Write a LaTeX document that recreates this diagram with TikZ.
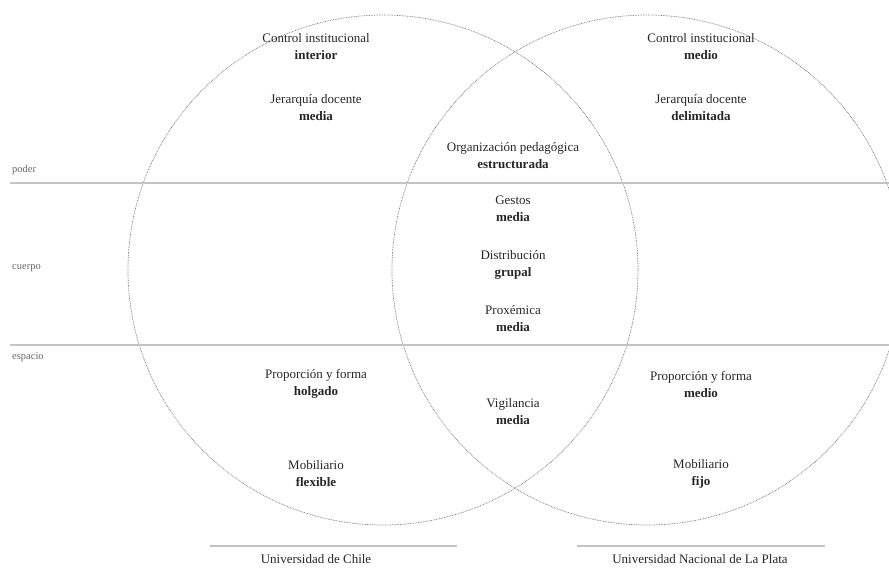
\documentclass[tikz,border=0pt]{standalone}
\usepackage{fontspec}
\setmainfont{Liberation Serif}
\definecolor{txt}{HTML}{262626}
\definecolor{rule}{HTML}{C4C4C4}
\definecolor{circ}{HTML}{7A7A7A}
\begin{document}
\begin{tikzpicture}[x=1pt,y=-1pt,
  lbl/.style={align=center,font=\fontsize{13}{17}\selectfont,text=txt,inner sep=0pt},
  side/.style={anchor=west,font=\fontsize{10.5}{12}\selectfont,text=black!60,inner sep=0pt},
  band/.style={draw=rule,line width=1.6pt},
  ring/.style={draw=circ,line width=0.75pt,dash pattern=on 0.75pt off 0.9pt},
  uni/.style={font=\fontsize{13}{15}\selectfont,text=txt,inner sep=0pt}]
\useasboundingbox (0,0) rectangle (889,570);
\clip (0,0) rectangle (889,570);
% circles
\draw[ring] (383,270) circle (255);
\draw[ring] (647,270) circle (255);
% bands
\coordinate (p1) at (10,183); \coordinate (p2) at (889,183);
\coordinate (e1) at (10,345); \coordinate (e2) at (889,345);
\draw[band] (p1) -- (p2);
\draw[band] (e1) -- (e2);
% side labels
\node[side] (poder) at (12,170) {poder};
\node[side] (cuerpo) at (12,268) {cuerpo};
\node[side] (espacio) at (12,357) {espacio};
% left column
\node[lbl] (ci1) at (316,47) {Control institucional\\\textbf{interior}};
\node[lbl] (jd1) at (316,108) {Jerarquía docente\\\textbf{media}};
\node[lbl] (pf1) at (316,384) {Proporción y forma\\\textbf{holgado}};
\node[lbl] (mb1) at (316,474) {Mobiliario\\\textbf{flexible}};
% right column
\node[lbl] (ci2) at (701,47) {Control institucional\\\textbf{medio}};
\node[lbl] (jd2) at (701,108) {Jerarquía docente\\\textbf{delimitada}};
\node[lbl] (pf2) at (701,384) {Proporción y forma\\\textbf{medio}};
\node[lbl] (mb2) at (701,474) {Mobiliario\\\textbf{fijo}};
% center
\node[lbl] (op) at (513,156) {Organización pedagógica\\\textbf{estructurada}};
\node[lbl] (ge) at (513,209) {Gestos\\\textbf{media}};
\node[lbl] (di) at (513,265) {Distribución\\\textbf{grupal}};
\node[lbl] (px) at (513,319) {Proxémica\\\textbf{media}};
\node[lbl] (vi) at (513,412) {Vigilancia\\\textbf{media}};
% universities
\coordinate (u1a) at (210,546); \coordinate (u1b) at (457,546);
\coordinate (u2a) at (577,546); \coordinate (u2b) at (825,546);
\draw[draw=rule,line width=1.2pt] (u1a) -- (u1b);
\draw[draw=rule,line width=1.2pt] (u2a) -- (u2b);
\node[uni] (uch) at (316,559) {Universidad de Chile};
\node[uni] (unlp) at (700,559) {Universidad Nacional de La Plata};
\end{tikzpicture}
\end{document}
